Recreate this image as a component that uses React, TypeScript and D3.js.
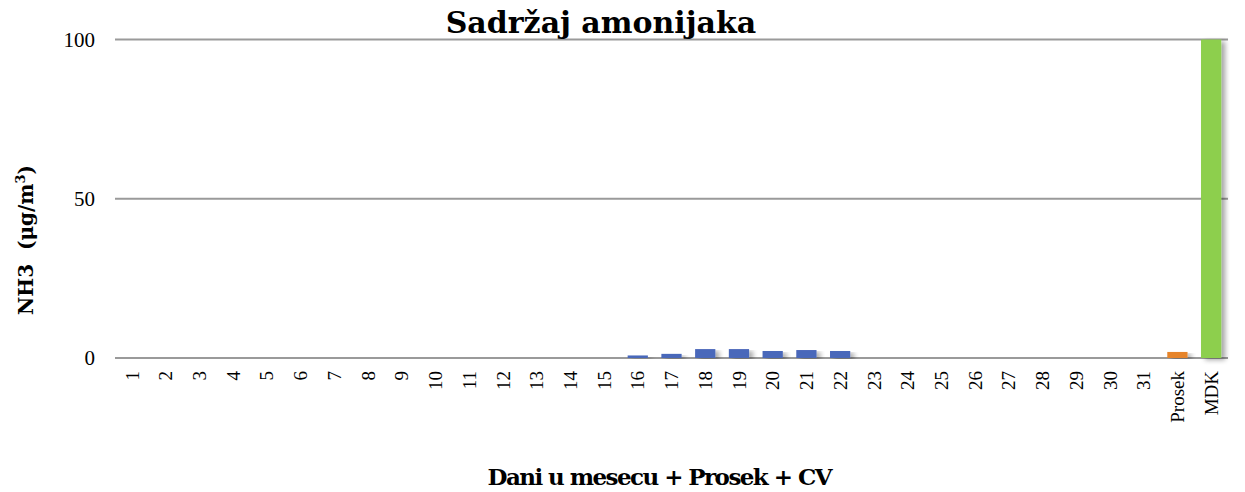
import React from "react";
import * as d3 from "d3";

const categories = [
  "1", "2", "3", "4", "5", "6", "7", "8", "9", "10", "11", "12", "13", "14", "15", "16",
  "17", "18", "19", "20", "21", "22", "23", "24", "25", "26", "27", "28", "29", "30", "31",
  "Prosek", "MDK",
];
const dailyValues = [
  0, 0, 0, 0, 0, 0, 0, 0, 0, 0, 0, 0, 0, 0, 0, 0.8,
  1.3, 2.8, 2.8, 2.2, 2.5, 2.2, 0, 0, 0, 0, 0, 0, 0, 0, 0,
];
const prosekValue = 1.9;
const mdkValue = 100;
const yTicks = [0, 50, 100];

const colors = { day: "#4A67BA", prosek: "#E6842A", mdk: "#8DCF4D" };

const App = () => {
  const width = 1245;
  const height = 492;
  const margin = { top: 39.5, right: 17, bottom: 134, left: 115 };

  const values = [...dailyValues, prosekValue, mdkValue];
  const rows = categories.map((c, i) => ({
    key: c,
    value: values[i],
    color: i < 31 ? colors.day : i === 31 ? colors.prosek : colors.mdk,
  }));

  const x = d3
    .scaleBand()
    .domain(categories)
    .range([margin.left, width - margin.right])
    .paddingInner(0.4)
    .paddingOuter(0.2);
  const y = d3.scaleLinear().domain([0, 100]).range([height - margin.bottom, margin.top]);

  const serif = "'Liberation Serif', 'DejaVu Serif', serif";
  const boldSerif = "'DejaVu Serif', serif";

  return (
    <svg width={width} height={height} style={{ display: "block", position: "absolute", left: 0, top: 0 }}>
      <defs>
        <filter id="shadow" x="-20%" y="-5%" width="160%" height="110%">
          <feGaussianBlur in="SourceAlpha" stdDeviation="2.5" />
          <feOffset dx="4" dy="2" result="blur" />
          <feComponentTransfer>
            <feFuncA type="linear" slope="0.35" />
          </feComponentTransfer>
          <feMerge>
            <feMergeNode />
            <feMergeNode in="SourceGraphic" />
          </feMerge>
        </filter>
      </defs>
      <rect width={width} height={height} fill="#fff" />

      {yTicks.map((t) => (
        <g key={t}>
          <line
            x1={margin.left}
            x2={width - margin.right}
            y1={y(t)}
            y2={y(t)}
            stroke="#9a9a9a"
            strokeWidth={2}
          />
          <text
            x={95}
            y={y(t)}
            dy="0.35em"
            textAnchor="end"
            fontFamily={serif}
            fontSize={21}
            fill="#000"
          >
            {t}
          </text>
        </g>
      ))}

      {rows.map((d) => (
        <rect
          key={d.key}
          x={x(d.key)}
          y={y(d.value)}
          width={x.bandwidth()}
          height={y(0) - y(d.value)}
          fill={d.color}
          filter={d.value > 0 ? "url(#shadow)" : undefined}
        />
      ))}

      {categories.map((c) => (
        <text
          key={c}
          transform={`translate(${(x(c) ?? 0) + x.bandwidth() / 2},${y(0) + 13}) rotate(-90)`}
          textAnchor="end"
          dy="0.35em"
          fontFamily={serif}
          fontSize={19}
          fill="#000"
        >
          {c}
        </text>
      ))}

      <text
        x={601}
        y={33}
        textAnchor="middle"
        fontFamily={boldSerif}
        fontWeight="bold"
        fontSize={30}
        fill="#000"
      >
        Sadržaj amonijaka
      </text>

      <text
        x={660}
        y={485}
        textAnchor="middle"
        fontFamily={boldSerif}
        fontWeight="bold"
        fontSize={23}
        textLength={345}
        lengthAdjust="spacing"
        fill="#000"
      >
        Dani u mesecu + Prosek + CV
      </text>

      <text
        transform={`translate(33,240) rotate(-90)`}
        textAnchor="middle"
        fontFamily={boldSerif}
        fontWeight="bold"
        fontSize={20}
        fill="#000"
        xmlSpace="preserve"
      >
        NH3  (μg/m<tspan dy="-8" fontSize={13}>3</tspan><tspan dy="8">)</tspan>
      </text>
    </svg>
  );
};

export default App;
